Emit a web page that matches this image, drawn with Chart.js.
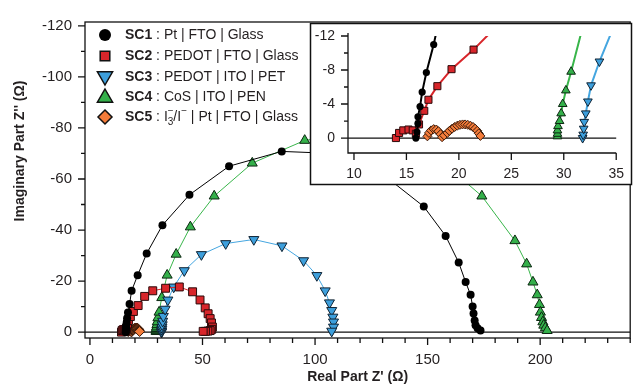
<!DOCTYPE html>
<html>
<head>
<meta charset="utf-8">
<script src="https://cdn.jsdelivr.net/npm/chart.js@4.4.1/dist/chart.umd.min.js"></script>
<style>
  html, body { margin: 0; padding: 0; background: #fff; }
  #wrap { position: relative; width: 637px; height: 385px; }
  #wrap canvas { position: absolute; left: 0; top: 0; }
</style>
</head>
<body>
<div id="wrap">
  <canvas id="mainChart" width="637" height="385"></canvas>
  <canvas id="insetChart" width="637" height="385"></canvas>
</div>
<script>
const FONT = '"Liberation Sans", Arial, Helvetica, sans-serif';

// Real part Z' (ohm) and imaginary part Z'' (ohm)
const sc1Re = [15.9, 16.0, 16.1, 16.1, 16.3, 16.5, 16.9, 17.6, 18.5, 21.2, 25.2, 32.2, 44.2, 61.8, 85.2, 108, 127, 148.3, 158, 163.8, 166.9, 169.1, 170, 170.4, 170.9, 171.3, 172.2, 173.5];
const sc1Im = [0, -0.7, -1.7, -2.5, -3.7, -5.4, -7.7, -11, -16.2, -22.3, -30.8, -41.9, -53.8, -65, -70.8, -70, -64, -49.2, -37.7, -27.3, -19.6, -14.6, -10, -7.3, -4.6, -2.7, -1.5, -0.6];

const sc2Re = [14.0, 14.3, 14.7, 15.2, 15.6, 15.9, 16.2, 16.7, 17.1, 17.95, 19.3, 21.4, 24.3, 27.9, 33.6, 39.7, 45.6, 48.9, 51.2, 52.5, 53.4, 54, 54.4, 54.1, 53.4, 52.4, 51.3, 50.3];
const sc2Im = [0, -0.6, -0.9, -1.0, -0.9, -0.5, -1.6, -3.2, -4.5, -6.1, -8.1, -10.4, -14, -16.2, -17.2, -17.7, -15.8, -12.6, -9.5, -7.2, -5.3, -3.6, -2, -1.1, -0.6, -0.4, -0.3, -0.3];

const sc3Re = [31.8, 31.85, 31.9, 31.95, 32.1, 32.3, 32.6, 33.4, 34.6, 37.2, 41.9, 49.5, 60.3, 72.8, 85.3, 94.9, 100.8, 104.5, 106.4, 107.4, 107.9, 108.2, 108.2, 107.4];
const sc3Im = [0, -0.4, -1.1, -1.9, -2.9, -4.3, -6.2, -9, -12.6, -17.7, -24.1, -30.4, -34.7, -36.3, -33.8, -28, -22.2, -16.2, -11.5, -8.5, -5.9, -4, -2, -0.4];

const sc4Re = [29.4, 29.4, 29.4, 29.45, 29.6, 29.75, 29.9, 30.2, 30.7, 31.9, 34.3, 38.3, 44.6, 55.2, 72.1, 95.4, 118, 140, 160, 174.1, 188.8, 194, 196.8, 198.7, 199.7, 200.1, 200.6, 201.2, 201.6, 202.3, 203.1];
const sc4Im = [-0.2, -0.5, -0.9, -1.4, -2, -2.9, -4, -5.6, -7.8, -13.5, -22.3, -30.5, -41.2, -53.3, -66.2, -75.1, -78, -74, -64, -53.3, -35.8, -26.7, -19.6, -14.6, -10.8, -7.8, -5.7, -4, -2.7, -1.7, -0.6];

const sc5Re = [17.0, 17.15, 17.35, 17.6, 17.85, 18.05, 18.25, 18.4, 18.6, 18.9, 19.1, 19.35, 19.6, 19.85, 20.1, 20.35, 20.6, 20.85, 21.1, 21.35, 21.55, 21.75, 21.9, 22.05];
const sc5Im = [-0.2, -0.6, -0.9, -1.05, -1.0, -0.8, -0.45, -0.1, -0.3, -0.6, -0.85, -1.1, -1.3, -1.45, -1.55, -1.6, -1.6, -1.55, -1.45, -1.3, -1.1, -0.85, -0.55, -0.25];

const seriesNames = ['SC1', 'SC2', 'SC3', 'SC4', 'SC5'];
const seriesLabels = [' : Pt | FTO | Glass', ' : PEDOT | FTO | Glass', ' : PEDOT | ITO | PET', ' : CoS | ITO | PEN', ' | Pt | FTO | Glass'];

const mainXTicks = [0, 50, 100, 150, 200];
const mainYTicks = [-120, -100, -80, -60, -40, -20, 0];
const insetXTicks = [10, 15, 20, 25, 30, 35];
const insetYTicks = [-12, -8, -4, 0];

const pts = (re, im) => re.map((v, i) => ({ x: v, y: im[i] }));

const styles = [
  { shape: 'circle', fill: '#000000', border: '#000000', line: '#000000', rot: 0 },
  { shape: 'rect', fill: '#d8262b', border: '#2a0a0a', line: '#d8262b', rot: 0 },
  { shape: 'triangle', fill: '#3d9fdc', border: '#0e2233', line: '#45a6e0', rot: 180 },
  { shape: 'triangle', fill: '#34b04a', border: '#0c2611', line: '#38b54a', rot: 0 },
  { shape: 'rectRot', fill: '#f47c3a', border: '#3a1a0a', line: '#f47c3a', rot: 0 }
];
const allData = [pts(sc1Re, sc1Im), pts(sc2Re, sc2Im), pts(sc3Re, sc3Im), pts(sc4Re, sc4Im), pts(sc5Re, sc5Im)];

function makeDatasets(radii, lineW) {
  return allData.map((d, i) => ({
    data: d,
    showLine: i < 4,
    borderColor: styles[i].line,
    borderWidth: lineW,
    pointStyle: styles[i].shape,
    pointRotation: styles[i].rot,
    pointRadius: radii[i],
    pointBackgroundColor: styles[i].fill,
    pointBorderColor: styles[i].border,
    pointBorderWidth: i === 0 ? 0 : 1,
    tension: 0
  }));
}

function marker(ctx, i, x, y, r) {
  const s = styles[i];
  ctx.save();
  ctx.fillStyle = s.fill;
  ctx.strokeStyle = '#111';
  ctx.lineWidth = 1.5;
  ctx.beginPath();
  if (s.shape === 'circle') {
    ctx.arc(x, y, r, 0, Math.PI * 2);
  } else if (s.shape === 'rect') {
    ctx.rect(x - r * 0.8, y - r * 0.8, r * 1.6, r * 1.6);
  } else if (s.shape === 'rectRot') {
    ctx.moveTo(x, y - r); ctx.lineTo(x + r, y); ctx.lineTo(x, y + r); ctx.lineTo(x - r, y); ctx.closePath();
  } else {
    const d = s.rot ? -1 : 1;
    ctx.moveTo(x, y - d * r);
    ctx.lineTo(x + r * 0.95, y + d * r * 0.65);
    ctx.lineTo(x - r * 0.95, y + d * r * 0.65);
    ctx.closePath();
  }
  ctx.fill();
  if (i > 0) ctx.stroke();
  ctx.restore();
}

const mainDeco = {
  id: 'mainDeco',
  beforeDatasetsDraw(chart) {
    const { ctx, chartArea: a, scales: { y } } = chart;
    ctx.save();
    ctx.strokeStyle = '#111';
    ctx.lineWidth = 1.2;
    const y0 = y.getPixelForValue(0);
    ctx.beginPath(); ctx.moveTo(a.left, y0); ctx.lineTo(a.right, y0); ctx.stroke();
    ctx.restore();
  },
  afterDraw(chart) {
    const { ctx, chartArea: a, scales: { x, y } } = chart;
    ctx.save();
    ctx.strokeStyle = '#111';
    ctx.lineWidth = 1.3;
    ctx.strokeRect(a.left, a.top, a.right - a.left, a.bottom - a.top);
    ctx.beginPath();
    for (let v = -120; v <= 0; v += 10) {
      const py = y.getPixelForValue(v);
      const len = v % 20 === 0 ? 7 : 4;
      ctx.moveTo(a.left - len, py); ctx.lineTo(a.left, py);
    }
    for (let v = 0; v <= 240; v += 10) {
      const px = x.getPixelForValue(v);
      const len = v % 50 === 0 ? 7 : 5;
      ctx.moveTo(px, a.bottom); ctx.lineTo(px, a.bottom + len);
    }
    ctx.stroke();

    // axis titles
    ctx.fillStyle = '#231f20';
    ctx.font = 'bold 14px ' + FONT;
    ctx.textAlign = 'center';
    ctx.textBaseline = 'middle';
    ctx.fillText("Real Part Z' (\u03A9)", (a.left + a.right) / 2, 377);
    ctx.save();
    ctx.translate(20, 151);
    ctx.rotate(-Math.PI / 2);
    ctx.fillText("Imaginary Part Z'' (\u03A9)", 0, 0);
    ctx.restore();

    // legend
    const rowY = [35, 56, 77, 97, 117];
    const radii = [6, 6, 8, 8, 7];
    seriesNames.forEach((name, i) => {
      const ry = rowY[i];
      marker(ctx, i, 105, ry, radii[i]);
      ctx.textAlign = 'left';
      ctx.textBaseline = 'middle';
      ctx.fillStyle = '#231f20';
      ctx.font = 'bold 14px ' + FONT;
      let tx = 125;
      ctx.fillText(name, tx, ry);
      tx += ctx.measureText(name).width;
      ctx.font = '14px ' + FONT;
      if (i < 4) {
        ctx.fillText(seriesLabels[i], tx, ry);
      } else {
        ctx.fillText(' : I', tx, ry);
        tx += ctx.measureText(' : I').width;
        ctx.font = '10px ' + FONT;
        ctx.fillText('3', tx, ry + 5);
        ctx.fillText('\u2212', tx, ry - 6);
        tx += ctx.measureText('3').width;
        ctx.font = '14px ' + FONT;
        ctx.fillText('/I', tx, ry);
        tx += ctx.measureText('/I').width;
        ctx.font = '10px ' + FONT;
        ctx.fillText('\u2212', tx, ry - 6);
        tx += ctx.measureText('\u2212').width;
        ctx.font = '14px ' + FONT;
        ctx.fillText(seriesLabels[i], tx, ry);
      }
    });
    ctx.restore();
  }
};

const insetDeco = {
  id: 'insetDeco',
  beforeDraw(chart) {
    const ctx = chart.ctx;
    ctx.save();
    ctx.fillStyle = '#ffffff';
    ctx.fillRect(310, 23, 322, 162);
    ctx.strokeStyle = '#111';
    ctx.lineWidth = 1.5;
    ctx.strokeRect(310.5, 23.5, 321, 161);
    ctx.restore();
  },
  beforeDatasetsDraw(chart) {
    const { ctx, chartArea: a, scales: { y } } = chart;
    ctx.save();
    ctx.strokeStyle = '#111';
    ctx.lineWidth = 1.3;
    const y0 = y.getPixelForValue(0);
    ctx.beginPath(); ctx.moveTo(a.left, y0); ctx.lineTo(a.right, y0); ctx.stroke();
    ctx.restore();
  },
  afterDraw(chart) {
    const { ctx, chartArea: a, scales: { x, y } } = chart;
    ctx.save();
    ctx.strokeStyle = '#111';
    ctx.lineWidth = 1.3;
    ctx.beginPath();
    ctx.moveTo(a.left, a.top - 3); ctx.lineTo(a.left, a.bottom); ctx.lineTo(a.right, a.bottom);
    for (let v = -12; v <= 0; v += 2) {
      const py = y.getPixelForValue(v);
      const len = v % 4 === 0 ? 7 : 4;
      ctx.moveTo(a.left - len, py); ctx.lineTo(a.left, py);
    }
    insetXTicks.forEach(v => {
      const px = x.getPixelForValue(v);
      ctx.moveTo(px, a.bottom); ctx.lineTo(px, a.bottom + 7);
    });
    ctx.stroke();
    ctx.restore();
  }
};

new Chart(document.getElementById('mainChart'), {
  type: 'scatter',
  data: { datasets: makeDatasets([4, 5.6, 5.8, 5.8, 5], 1) },
  options: {
    responsive: false,
    animation: false,
    layout: { padding: { left: 0, right: 2, top: 16, bottom: 0 } },
    plugins: { legend: { display: false }, tooltip: { enabled: false } },
    scales: {
      x: {
        type: 'linear', min: -2.2, max: 240,
        grid: { display: false, drawTicks: false }, border: { display: false },
        afterBuildTicks: s => { s.ticks = mainXTicks.map(v => ({ value: v })); },
        afterFit: s => { s.height = 47; },
        ticks: { font: { family: FONT, size: 15 }, color: '#231f20', padding: 13, maxRotation: 0 }
      },
      y: {
        type: 'linear', min: -121.5, max: 2.3, reverse: true,
        grid: { display: false, drawTicks: false }, border: { display: false },
        afterBuildTicks: s => { s.ticks = mainYTicks.map(v => ({ value: v })); },
        afterFit: s => { s.width = 85; },
        ticks: { font: { family: FONT, size: 15 }, color: '#231f20', padding: 13 }
      }
    }
  },
  plugins: [mainDeco]
});

new Chart(document.getElementById('insetChart'), {
  type: 'scatter',
  data: { datasets: makeDatasets([3.6, 5, 5, 5, 4.5], 2) },
  options: {
    responsive: false,
    animation: false,
    layout: { padding: { left: 0, right: 18, top: 36, bottom: 0 } },
    plugins: { legend: { display: false }, tooltip: { enabled: false } },
    scales: {
      x: {
        type: 'linear', min: 9.43, max: 35,
        grid: { display: false, drawTicks: false }, border: { display: false },
        afterBuildTicks: s => { s.ticks = insetXTicks.map(v => ({ value: v })); },
        afterFit: s => { s.height = 232; },
        ticks: { font: { family: FONT, size: 14 }, color: '#231f20', padding: 13, maxRotation: 0 }
      },
      y: {
        type: 'linear', min: -12, max: 1.76, reverse: true,
        grid: { display: false, drawTicks: false }, border: { display: false },
        afterBuildTicks: s => { s.ticks = insetYTicks.map(v => ({ value: v })); },
        afterFit: s => { s.width = 348; },
        ticks: { font: { family: FONT, size: 14 }, color: '#231f20', padding: 13 }
      }
    }
  },
  plugins: [insetDeco]
});
</script>
</body>
</html>
